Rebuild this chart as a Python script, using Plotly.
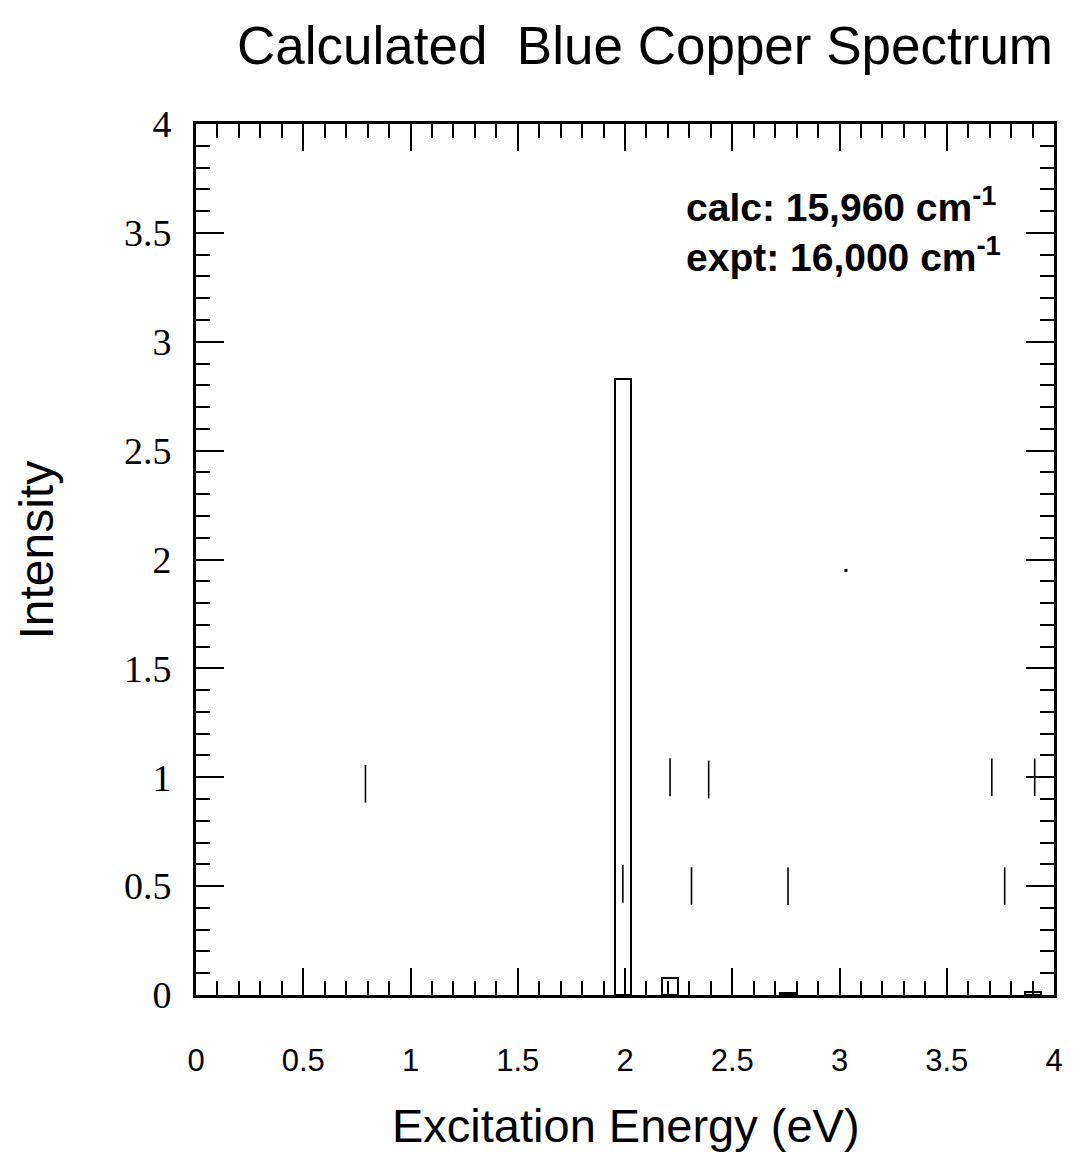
import plotly.graph_objects as go

# Stick spectrum (boxes drawn as outlined bars)
bar_energy = [1.99, 2.21, 2.76, 3.90]
bar_intensity = [2.83, 0.08, 0.01, 0.015]

# Short vertical marks scattered in the plot
mark_energy = [0.79, 2.21, 2.39, 3.71, 3.91, 1.99, 2.31, 2.76, 3.77]
mark_intensity = [0.97, 1.00, 0.99, 1.00, 1.00, 0.51, 0.50, 0.50, 0.50]

speck_energy = [3.03]
speck_intensity = [1.95]

x_ticks = [0, 0.5, 1, 1.5, 2, 2.5, 3, 3.5, 4]
y_ticks = [0, 0.5, 1, 1.5, 2, 2.5, 3, 3.5, 4]

title_text = "Calculated&nbsp;&nbsp;Blue Copper Spectrum"
x_title = "Excitation Energy (eV)"
y_title = "Intensity"
note_lines = ["calc: 15,960 cm<sup>-1</sup>", "expt: 16,000 cm<sup>-1</sup>"]

fig = go.Figure()
fig.add_trace(go.Bar(
    x=bar_energy, y=bar_intensity, width=0.075,
    marker=dict(color="rgba(0,0,0,0)", line=dict(color="black", width=2)),
    showlegend=False, hoverinfo="x+y"))
fig.add_trace(go.Scatter(
    x=mark_energy, y=mark_intensity, mode="markers",
    marker=dict(symbol="line-ns", size=27, line=dict(color="black", width=1.6)),
    showlegend=False))
fig.add_trace(go.Scatter(
    x=speck_energy, y=speck_intensity, mode="markers",
    marker=dict(symbol="square", size=3, color="black"),
    showlegend=False))

axis_common = dict(
    showgrid=False, zeroline=False, showline=True, linecolor="black", linewidth=3,
    mirror="allticks", ticks="inside", tickwidth=2, tickcolor="black",
    dtick=0.5, tick0=0,
    minor=dict(ticks="inside", dtick=0.1, tick0=0, ticklen=14, tickwidth=2,
               tickcolor="black", showgrid=False),
)

fig.update_xaxes(
    **axis_common, range=[0, 4], tickvals=x_ticks, ticklen=27,
    tickfont=dict(family="Liberation Sans, Arial", size=31, color="black"),
    ticklabelstandoff=36,
)
fig.update_yaxes(
    **axis_common, range=[0, 4], tickvals=y_ticks, ticklen=28,
    tickfont=dict(family="Liberation Serif, Times New Roman", size=38, color="black"),
    ticklabelstandoff=14,
)

fig.update_layout(
    width=1075, height=1154,
    margin=dict(l=196, r=18, t=124, b=159),
    paper_bgcolor="white", plot_bgcolor="white",
    bargap=0,
    title=dict(text=title_text, x=645 / 1075, xanchor="center", xref="container",
               y=1 - 45 / 1154, yanchor="middle", yref="container",
               font=dict(family="Liberation Sans, Arial", size=53, color="black")),
    font=dict(family="Liberation Sans, Arial", color="black"),
)

fig.add_annotation(text=x_title, xref="paper", yref="paper",
                   x=(628 - 196) / 861, y=(995 - 1125) / 871,
                   xanchor="center", yanchor="middle", showarrow=False,
                   font=dict(family="Liberation Sans, Arial", size=47, color="black"))
fig.add_annotation(text=y_title, xref="paper", yref="paper",
                   x=(35 - 196) / 861, y=(995 - 550) / 871, textangle=-90,
                   xanchor="center", yanchor="middle", showarrow=False,
                   font=dict(family="Liberation Sans, Arial", size=48, color="black"))
for i, line in enumerate(note_lines):
    fig.add_annotation(text=line, xref="paper", yref="paper",
                       x=(686 - 196) / 861, y=(995 - (205 + 50 * i)) / 871,
                       xanchor="left", yanchor="middle", showarrow=False,
                       font=dict(family="Liberation Sans, Arial", size=39, color="black",
                                 weight="bold"))

fig.write_html("out.html")
